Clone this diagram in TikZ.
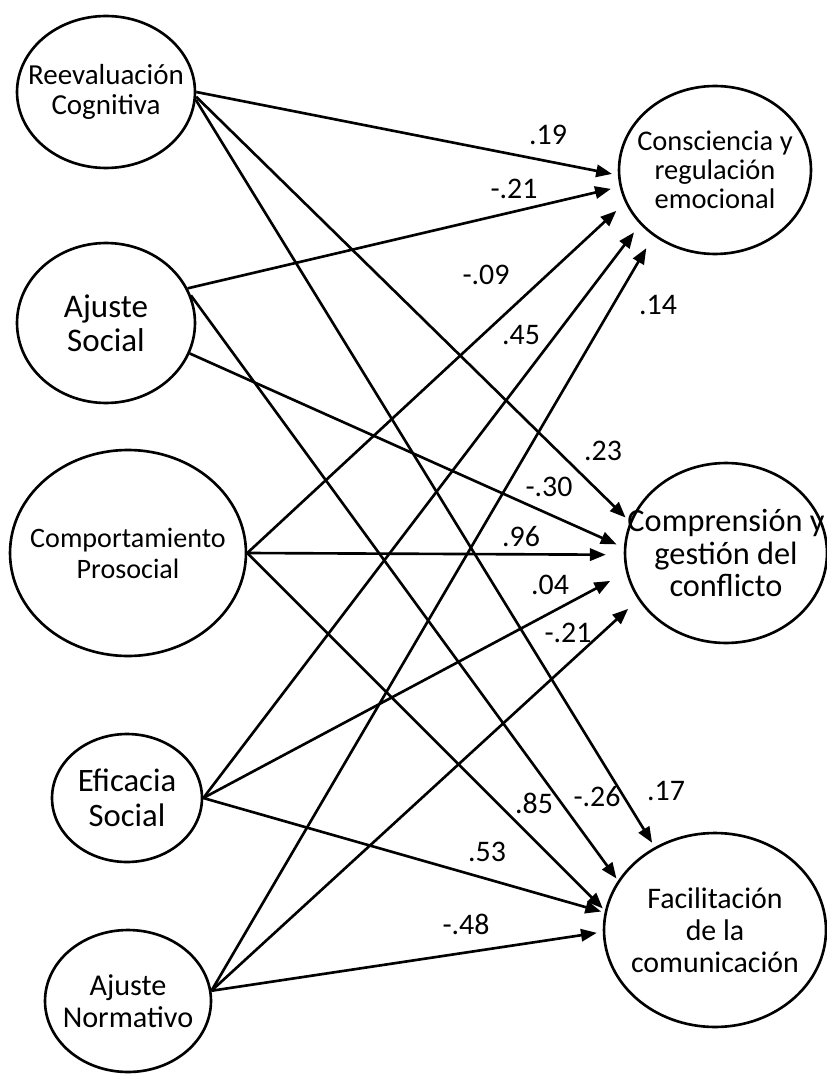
\documentclass[tikz,border=0pt]{standalone}
\usepackage{fontspec}
\setmainfont{Carlito}
\usetikzlibrary{arrows.meta,shapes.geometric}

\begin{document}
\begin{tikzpicture}[
		x = 0.02cm, y = -0.02cm,
		> = {Triangle[length=9pt,width=7pt]},
		latent/.style = {draw, ellipse, line width=1.5pt, inner sep=0pt},
		vartext/.style = {align=center, inner sep=0pt},
		every edge/.style = {draw, line width=1.5pt},
		coef/.style = {font=\fontsize{17}{18}\selectfont, inner sep=0pt}
		]
		\useasboundingbox (0,0) rectangle (827,1074);
		% predictores
		\node[latent, minimum width=3.56cm, minimum height=3.04cm,
			label={[vartext, font=\fontsize{16.5}{17}\selectfont]center:Reevaluación\\Cognitiva}] (RC) at (106,92) {};
		\node[latent, minimum width=3.56cm, minimum height=3.2cm,
			label={[vartext, font=\fontsize{18.8}{19.3}\selectfont]center:Ajuste\\Social}] (AS) at (106,323) {};
		\node[latent, minimum width=4.72cm, minimum height=4.12cm,
			label={[vartext, font=\fontsize{16}{17.6}\selectfont]center:Comportamiento\\Prosocial}] (CP) at (128,553) {};
		\node[latent, minimum width=3.0cm, minimum height=2.56cm,
			label={[vartext, font=\fontsize{18.6}{19.9}\selectfont]center:Eficacia\\Social}] (ES) at (127,798) {};
		\node[latent, minimum width=3.32cm, minimum height=2.84cm,
			label={[vartext, font=\fontsize{17.2}{18.2}\selectfont]center:Ajuste\\Normativo}] (AN) at (128,1001) {};
		% criterios
		\node[latent, minimum width=3.84cm, minimum height=3.36cm,
			label={[vartext, font=\fontsize{16.2}{16.4}\selectfont]center:Consciencia y\\regulación\\emocional}] (CO) at (715,170) {};
		\node[latent, minimum width=4.04cm, minimum height=3.6cm,
			label={[vartext, font=\fontsize{18.4}{18.4}\selectfont]center:Comprensión y\\gestión del\\conflicto}] (CG) at (726,553) {};
		\node[latent, minimum width=4.44cm, minimum height=3.88cm,
			label={[vartext, font=\fontsize{17}{18.2}\selectfont]center:Facilitación\\de la\\comunicación}] (FC) at (715,930) {};
		% trayectorias
		\path[->]
		(RC.0)    edge[shorten >=0.12cm] (CO.183)
		(RC.-3)   edge[shorten >=0.12cm] (CG.162)
		(RC.-5)   edge[shorten >=0.1cm]  (FC.126)
		(AS.23)   edge[shorten >=0.18cm] (CO.190)
		(AS.-20)  edge[shorten >=0.16cm] (CG.177)
		(AS.18)   edge[shorten >=0.05cm] (FC.153)
		(CP.east) edge[shorten >=0.24cm] (CO.200)
		(CP.east) edge[shorten >=0.36cm] (CG.181)
		(CP.east) edge[shorten >=0.06cm] (FC.170)
		(ES.east) edge[shorten >=0.2cm]  (CO.216)
		(ES.east) edge[shorten >=0.36cm] (CG.191)
		(ES.east) edge[shorten >=0.07cm] (FC.171)
		(AN.7)    edge[shorten >=0.28cm] (CO.227)
		(AN.7)    edge[shorten >=0.27cm] (CG.208)
		(AN.7)    edge[shorten >=0.12cm] (FC.181);
		% coeficientes
		\node[coef] (c19) at (548,135) {.19};
		\node[coef] (c21a) at (514,189) {-.21};
		\node[coef] (c09) at (486,275) {-.09};
		\node[coef] (c14) at (658,305) {.14};
		\node[coef] (c45) at (521,335) {.45};
		\node[coef] (c23) at (603,451) {.23};
		\node[coef] (c30) at (549,487) {-.30};
		\node[coef] (c96) at (521,537) {.96};
		\node[coef] (c04) at (550,585) {.04};
		\node[coef] (c21b) at (568,633) {-.21};
		\node[coef] (c85) at (534,803) {.85};
		\node[coef] (c26) at (597,797) {-.26};
		\node[coef] (c17) at (666,791) {.17};
		\node[coef] (c53) at (487,852) {.53};
		\node[coef] (c48) at (466,924) {-.48};
\end{tikzpicture}
\end{document}
